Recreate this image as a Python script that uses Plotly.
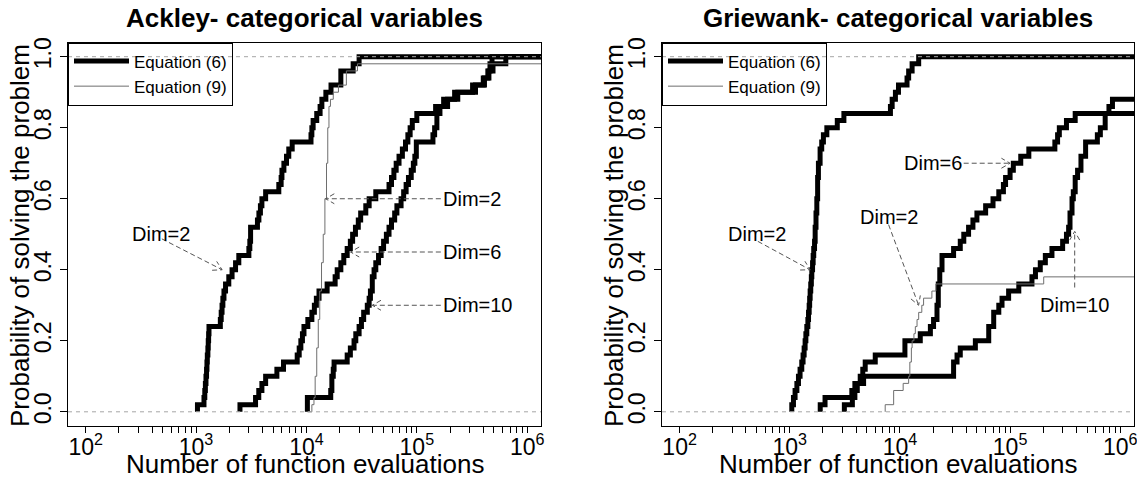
import numpy as np
import plotly.graph_objects as go

FONT = "Liberation Sans, Arial, Helvetica, sans-serif"
THIN_GREY = "#6e6e6e"
GUIDE_GREY = "#a6a6a6"
ARROW_GREY = "#555555"

X_TICKS = [1e2, 1e3, 1e4, 1e5, 1e6]
X_TICK_TEXT = ["10<sup>2</sup>", "10<sup>3</sup>", "10<sup>4</sup>", "10<sup>5</sup>", "10<sup>6</sup>"]
Y_TICKS = [0.0, 0.2, 0.4, 0.6, 0.8, 1.0]
Y_TICK_TEXT = ["0.0", "0.2", "0.4", "0.6", "0.8", "1.0"]

# ---- Ackley: evaluations at which the success fraction steps up ----
ACK_EQ6_D2_X = [1030, 1030, 1180, 1200, 1215, 1230, 1245, 1255, 1265, 1280, 1290, 1300, 1310,
                1660, 1690, 1720, 1750, 1790, 1850, 1980, 2120, 2280, 2440, 3010, 3070, 3120,
                3600, 3710, 3830, 3950, 4270, 5620, 5900, 6000, 6250, 6600, 6920, 7430,
                11000, 11200, 11500, 12400, 13300, 13800, 15000, 16700, 20500, 26500, 30000, 1.5e6]
ACK_EQ6_D2_Y = [0.00, 0.02, 0.04, 0.06, 0.08, 0.10, 0.12, 0.14, 0.16, 0.18, 0.20, 0.22, 0.24,
                0.26, 0.28, 0.30, 0.32, 0.34, 0.36, 0.38, 0.40, 0.42, 0.44, 0.46, 0.48, 0.52,
                0.54, 0.56, 0.58, 0.60, 0.62, 0.64, 0.66, 0.68, 0.70, 0.72, 0.74, 0.76,
                0.78, 0.80, 0.82, 0.84, 0.86, 0.88, 0.90, 0.92, 0.96, 0.98, 1.00, 1.00]

ACK_EQ6_D6_X = [2500, 2500, 3460, 3700, 3950, 4270, 5400, 6200, 8250, 8600, 8900, 9200, 9500,
                10300, 11200, 11800, 12300, 13000, 15400, 18200, 19000, 20500, 21800, 23400,
                25000, 26200, 27800, 29500, 31000, 34500, 37000, 42500, 56000, 59000, 62000,
                65000, 69000, 74000, 79000, 83000, 87000, 91000, 100000, 148000, 175000,
                220000, 320000, 400000, 440000, 460000, 480000, 1.5e6]
ACK_EQ6_D6_Y = [0.00, 0.02, 0.04, 0.06, 0.08, 0.10, 0.12, 0.14, 0.16, 0.18, 0.20, 0.22, 0.24,
                0.26, 0.28, 0.30, 0.32, 0.34, 0.36, 0.38, 0.40, 0.42, 0.44, 0.46,
                0.48, 0.50, 0.52, 0.54, 0.56, 0.58, 0.60, 0.62, 0.64, 0.66, 0.68,
                0.70, 0.72, 0.74, 0.76, 0.78, 0.80, 0.82, 0.84, 0.86, 0.88,
                0.90, 0.92, 0.94, 0.96, 0.98, 1.00, 1.00]

ACK_EQ6_D10_X = [10200, 10200, 16600, 17000, 17500, 17800, 23400, 25000, 27000, 28000, 30000,
                 31500, 33000, 35600, 37000, 38000, 39500, 41000, 42500, 45000, 47500, 50000,
                 53000, 56000, 59000, 63000, 66000, 72000, 76000, 80000, 84000, 89000, 93000,
                 96000, 99000, 140000, 145000, 152000, 162000, 190000, 235000, 340000, 410000,
                 450000, 490000, 640000, 1.5e6]
ACK_EQ6_D10_Y = [0.00, 0.04, 0.06, 0.10, 0.12, 0.14, 0.16, 0.18, 0.20, 0.22, 0.24,
                 0.26, 0.28, 0.30, 0.32, 0.34, 0.38, 0.40, 0.42, 0.44, 0.46, 0.48,
                 0.50, 0.52, 0.54, 0.56, 0.58, 0.60, 0.62, 0.64, 0.66, 0.68, 0.70,
                 0.72, 0.76, 0.78, 0.80, 0.84, 0.86, 0.88, 0.90, 0.92, 0.94,
                 0.96, 0.98, 1.00, 1.00]

ACK_EQ9_D2_X = [10200, 11200, 11700, 12000, 12400, 12800, 13200, 13700, 14200, 14700, 15200,
                15600, 16000, 16500, 17500, 19500, 23000, 29000, 1.5e6]
ACK_EQ9_D2_Y = [0.00, 0.02, 0.04, 0.10, 0.18, 0.26, 0.34, 0.42, 0.50, 0.60, 0.70,
                0.80, 0.86, 0.88, 0.90, 0.92, 0.96, 0.98, 0.98]

# ---- Griewank ----
GRI_EQ6_D2_X = [1043, 1043, 1080, 1117, 1160, 1199, 1240, 1285, 1320, 1350, 1378, 1400, 1428,
                1460, 1480, 1500, 1515, 1531, 1550, 1570, 1585, 1610, 1630, 1650, 1678, 1700,
                1730, 1760, 1790, 1820, 1885, 1950, 2020, 2170, 2700, 3100, 8200, 8500, 9100,
                9700, 11600, 12000, 12900, 14800, 1.5e6]
GRI_EQ6_D2_Y = [0.00, 0.02, 0.04, 0.06, 0.08, 0.10, 0.12, 0.14, 0.16, 0.18, 0.20, 0.22, 0.24,
                0.26, 0.28, 0.30, 0.32, 0.34, 0.36, 0.38, 0.40, 0.42, 0.44, 0.46, 0.48, 0.52,
                0.56, 0.60, 0.66, 0.70, 0.74, 0.76, 0.78, 0.80, 0.82, 0.84, 0.86, 0.88, 0.90,
                0.92, 0.94, 0.96, 0.98, 1.00, 1.00]

GRI_EQ6_D6_X = [1890, 1890, 2090, 3660, 3900, 4360, 4600, 4840, 5970, 11100, 15300, 18900,
                20200, 21700, 22300, 23000, 24100, 30700, 35300, 38000, 42000, 46000, 50000,
                60000, 70000, 79000, 87000, 91000, 100000, 107000, 125000, 148000, 255000,
                270000, 280000, 325000, 390000, 1.5e6]
GRI_EQ6_D6_Y = [0.00, 0.02, 0.04, 0.06, 0.08, 0.10, 0.12, 0.14, 0.16, 0.20, 0.22, 0.24,
                0.26, 0.30, 0.36, 0.40, 0.44, 0.46, 0.48, 0.50, 0.52, 0.54, 0.56,
                0.58, 0.60, 0.62, 0.64, 0.66, 0.68, 0.70, 0.72, 0.74, 0.76,
                0.78, 0.80, 0.82, 0.84, 0.84]

GRI_EQ6_D10_X = [3130, 3130, 3700, 3900, 4100, 4680, 30700, 33000, 35300, 48400, 64000, 71000,
                 79000, 84500, 97000, 120000, 158000, 170000, 188000, 209000, 240000, 300000,
                 325000, 340000, 350000, 365000, 375000, 390000, 410000, 440000, 485000,
                 620000, 660000, 730000, 790000, 850000, 1.5e6]
GRI_EQ6_D10_Y = [0.00, 0.02, 0.04, 0.06, 0.08, 0.10, 0.14, 0.16, 0.18, 0.20, 0.24, 0.28,
                 0.30, 0.32, 0.34, 0.36, 0.38, 0.40, 0.42, 0.44, 0.46, 0.48,
                 0.50, 0.52, 0.56, 0.60, 0.62, 0.66, 0.68, 0.72, 0.76,
                 0.78, 0.80, 0.84, 0.86, 0.88, 0.88]

GRI_EQ9_D2_X = [7350, 7350, 8770, 10700, 12000, 12300, 12700, 12900, 13400, 13800, 14300,
                14800, 15800, 16400, 19500, 21200, 202000, 1.5e6]
GRI_EQ9_D2_Y = [0.00, 0.02, 0.06, 0.08, 0.10, 0.14, 0.18, 0.20, 0.22, 0.24, 0.26,
                0.28, 0.30, 0.32, 0.34, 0.36, 0.38, 0.38]

# labels: text, text x, text y, anchor, arrow start (x, y), arrow tip (x, y)
ACK_LABELS = [
    ("Dim=2", 484, 0.50, "center", 490, 0.487, 1722, 0.40),
    ("Dim=2", 165000, 0.60, "left", 165000, 0.60, 14930, 0.60),
    ("Dim=6", 165000, 0.45, "left", 165000, 0.45, 25100, 0.45),
    ("Dim=10", 165000, 0.30, "left", 165000, 0.30, 39550, 0.30),
]
GRI_LABELS = [
    ("Dim=2", 509, 0.50, "center", 513, 0.48, 1531, 0.40),
    ("Dim=2", 8035, 0.548, "center", 7889, 0.527, 14791, 0.30),
    ("Dim=6", 37930, 0.70, "right", 37930, 0.70, 100000, 0.70),
    ("Dim=10", 385500, 0.30, "center", 386000, 0.35, 386000, 0.508),
]

W, H = 1137, 482
X_RANGE = [1.84, 6.125]
Y_RANGE = [-0.04, 1.04]
Y_DOMAIN = [1 - 426 / H, 1 - 42.5 / H]
LEFT_DOMAIN = [68 / W, 541 / W]
RIGHT_DOMAIN = [662 / W, 1134 / W]
HEAD_PX = 10


def _xaxis(domain, anchor):
    return dict(
        type="log", range=X_RANGE, domain=domain, anchor=anchor,
        tickmode="array", tickvals=X_TICKS, ticktext=X_TICK_TEXT,
        ticks="outside", ticklen=6, tickwidth=1, tickcolor="black",
        minor=dict(tickmode="array",
                   tickvals=[m * 10 ** p for p in range(2, 6) for m in range(2, 10)],
                   ticks="outside", ticklen=6, tickwidth=1, tickcolor="black", showgrid=False),
        showline=True, mirror=True, linecolor="black", linewidth=1,
        showgrid=False, zeroline=False, automargin=False,
        ticklabeloverflow="allow", ticklabelstandoff=-6,
        tickfont=dict(size=23, color="black"),
    )


def _yaxis(anchor):
    return dict(
        range=Y_RANGE, domain=Y_DOMAIN, anchor=anchor,
        tickmode="array", tickvals=Y_TICKS, ticktext=Y_TICK_TEXT, tickangle=-90,
        ticks="outside", ticklen=7, tickwidth=1, tickcolor="black",
        showline=True, mirror=True, linecolor="black", linewidth=1,
        showgrid=False, zeroline=False, automargin=False,
        tickfont=dict(size=23, color="black"),
    )


def _arrow_head(x0, y0, x1, y1, domain):
    """Two short strokes at the tip, like R's arrows(); sized in screen pixels."""
    kx = (domain[1] - domain[0]) * W / (X_RANGE[1] - X_RANGE[0])
    ky = (Y_DOMAIN[1] - Y_DOMAIN[0]) * H / (Y_RANGE[1] - Y_RANGE[0])
    lx0, lx1 = np.log10(x0), np.log10(x1)
    dx, dy = (lx0 - lx1) * kx, (y0 - y1) * ky
    n = np.hypot(dx, dy)
    ux, uy = dx / n, dy / n
    xs, ys = [], []
    for a in (np.radians(30), -np.radians(30)):
        rx = ux * np.cos(a) - uy * np.sin(a)
        ry = ux * np.sin(a) + uy * np.cos(a)
        xs.append(10 ** (lx1 + rx * HEAD_PX / kx))
        ys.append(y1 + ry * HEAD_PX / ky)
    return [xs[0], x1, xs[1]], [ys[0], y1, ys[1]]


def add_panel(fig, xa, ya, legend, domain, curves, labels):
    for i, (xs, ys, thick) in enumerate(curves):
        fig.add_trace(go.Scatter(
            x=xs, y=ys, mode="lines", line_shape="hv",
            line=dict(color="black" if thick else THIN_GREY, width=5 if thick else 1),
            name="Equation (6)" if thick else "Equation (9)",
            showlegend=i in (0, 3), legend=legend, hoverinfo="skip",
            xaxis=xa, yaxis=ya,
        ))
    for text, tx, ty, anchor, x0, y0, x1, y1 in labels:
        hx, hy = _arrow_head(x0, y0, x1, y1, domain)
        fig.add_trace(go.Scatter(
            x=[x0, x1, None] + hx, y=[y0, y1, None] + hy, mode="lines",
            line=dict(color=ARROW_GREY, width=1, dash="5px,3px"),
            showlegend=False, hoverinfo="skip", xaxis=xa, yaxis=ya,
        ))
        fig.add_annotation(
            x=np.log10(tx), y=ty, xref=xa, yref=ya, text=text, showarrow=False,
            xanchor=anchor, yanchor="middle", font=dict(size=20, color="black"),
        )
    for yv in (0, 1):
        fig.add_shape(type="line", xref=f"{xa} domain", yref=ya, x0=0, x1=1, y0=yv, y1=yv,
                      line=dict(color=GUIDE_GREY, width=1, dash="4px,4px"), layer="above")
    fig.add_annotation(x=0.5, y=1 - 464 / H, xref=f"{xa} domain", yref="paper",
                       text="Number of function evaluations", showarrow=False,
                       xanchor="center", yanchor="middle", font=dict(size=26, color="black"))


fig = go.Figure()
add_panel(fig, "x", "y", "legend", LEFT_DOMAIN, [
    (ACK_EQ6_D2_X, ACK_EQ6_D2_Y, True),
    (ACK_EQ6_D6_X, ACK_EQ6_D6_Y, True),
    (ACK_EQ6_D10_X, ACK_EQ6_D10_Y, True),
    (ACK_EQ9_D2_X, ACK_EQ9_D2_Y, False),
], ACK_LABELS)
add_panel(fig, "x2", "y2", "legend2", RIGHT_DOMAIN, [
    (GRI_EQ6_D2_X, GRI_EQ6_D2_Y, True),
    (GRI_EQ6_D6_X, GRI_EQ6_D6_Y, True),
    (GRI_EQ6_D10_X, GRI_EQ6_D10_Y, True),
    (GRI_EQ9_D2_X, GRI_EQ9_D2_Y, False),
], GRI_LABELS)

for title, xref, ytitle_x in (("Ackley- categorical variables", "x domain", 20),
                              ("Griewank- categorical variables", "x2 domain", 614)):
    fig.add_annotation(x=0.5, y=1 - 18 / H, xref=xref, yref="paper", text=title,
                       showarrow=False, xanchor="center", yanchor="middle",
                       font=dict(size=26, color="black", weight="bold"))
    fig.add_annotation(x=ytitle_x / W, y=1 - 236 / H, xref="paper", yref="paper",
                       text="Probability of solving the problem", textangle=-90,
                       showarrow=False, xanchor="center", yanchor="middle",
                       font=dict(size=26, color="black"))

legend_style = dict(
    xanchor="left", yanchor="top", y=Y_DOMAIN[1],
    bgcolor="rgba(0,0,0,0)", bordercolor="black", borderwidth=1,
    font=dict(size=17, color="black"), itemwidth=55, tracegroupgap=0,
)

fig.update_layout(
    width=W, height=H,
    margin=dict(l=0, r=0, t=0, b=0),
    paper_bgcolor="white", plot_bgcolor="white",
    font=dict(family=FONT, color="black"),
    xaxis=_xaxis(LEFT_DOMAIN, "y"),
    yaxis=_yaxis("x"),
    xaxis2=_xaxis(RIGHT_DOMAIN, "y2"),
    yaxis2=_yaxis("x2"),
    legend=dict(x=LEFT_DOMAIN[0], **legend_style),
    legend2=dict(x=RIGHT_DOMAIN[0], **legend_style),
)

fig.write_html("out.html", config={"displayModeBar": False},
               post_script="document.body.style.margin='0';")
